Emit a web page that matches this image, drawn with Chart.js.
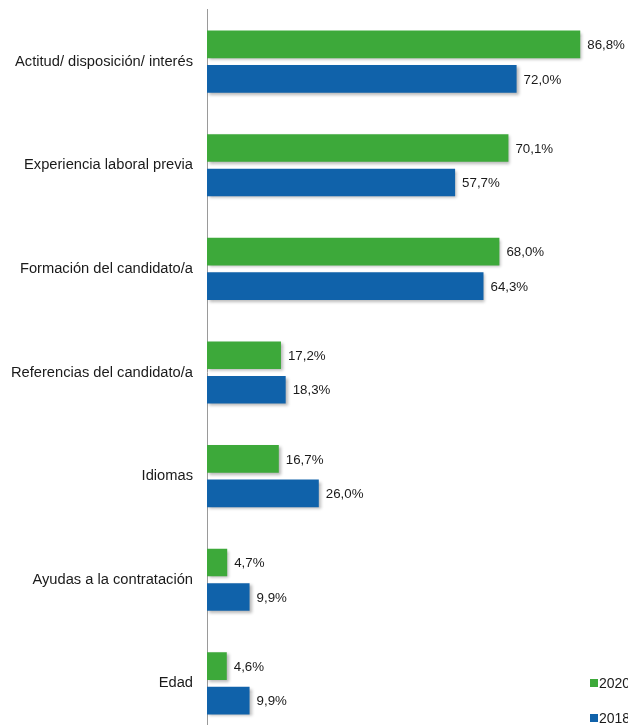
<!DOCTYPE html>
<html lang="es">
<head>
<meta charset="utf-8">
<title>Factores de contratación 2020 / 2018</title>
<script src="https://cdn.jsdelivr.net/npm/chart.js@4/dist/chart.umd.min.js"></script>
<style>
  html, body { margin: 0; padding: 0; background: #fff; overflow: hidden; }
  #wrap { position: relative; width: 640px; height: 771px; margin-top: -13px; }
</style>
</head>
<body>
<div id="wrap"><canvas id="chart" width="640" height="771"></canvas></div>
<script>
// ---- Daten -----------------------------------------------------------------
const categories = [
  'Actitud/ disposición/ interés',
  'Experiencia laboral previa',
  'Formación del candidato/a',
  'Referencias del candidato/a',
  'Idiomas',
  'Ayudas a la contratación',
  'Edad',
];
const seriesNames = ['2020', '2018'];
const values2020 = [86.8, 70.1, 68.0, 17.2, 16.7, 4.7, 4.6];
const values2018 = [72.0, 57.7, 64.3, 18.3, 26.0, 9.9, 9.9];
const seriesColors = ['#3DA93A', '#1062AA'];

const FONT = '"Liberation Sans", Arial, sans-serif';
const TEXT = '#1a1a1a';
const SHIFT = 13; // Canvas ist um 13px nach oben versetzt

// Komma als Dezimaltrenner.
const pct = (v) => v.toFixed(1).replace('.', ',') + '%';

// Leichter Schlagschatten unter den Balken.
const barShadow = {
  id: 'barShadow',
  beforeDatasetsDraw(chart) {
    const c = chart.ctx;
    c.save();
    c.shadowColor = 'rgba(0,0,0,0.28)';
    c.shadowBlur = 3;
    c.shadowOffsetX = 2;
    c.shadowOffsetY = 2;
  },
  afterDatasetsDraw(chart) { chart.ctx.restore(); },
};

// Wertebeschriftung rechts neben jedem Balken.
const valueLabels = {
  id: 'valueLabels',
  afterDraw(chart) {
    const c = chart.ctx;
    c.save();
    c.font = '13.3px ' + FONT;
    c.fillStyle = TEXT;
    c.textAlign = 'left';
    c.textBaseline = 'middle';
    chart.data.datasets.forEach((ds, i) => {
      chart.getDatasetMeta(i).data.forEach((bar, j) => {
        c.fillText(pct(ds.data[j]), bar.x + 7, bar.y + 1);
      });
    });
    c.restore();
  },
};

// Legende unten rechts (wie im Original am Rand abgeschnitten).
const cornerLegend = {
  id: 'cornerLegend',
  afterDraw(chart) {
    const c = chart.ctx;
    c.save();
    c.font = '14px ' + FONT;
    c.textBaseline = 'middle';
    const rows = [683 + SHIFT, 718 + SHIFT];
    seriesNames.forEach((name, i) => {
      c.fillStyle = seriesColors[i];
      c.fillRect(590, rows[i] - 4, 8, 8);
      c.fillStyle = TEXT;
      c.fillText(name, 599, rows[i] + 1);
    });
    c.restore();
  },
};

new Chart(document.getElementById('chart').getContext('2d'), {
  type: 'bar',
  data: {
    labels: categories,
    datasets: [
      { label: seriesNames[0], data: values2020, backgroundColor: seriesColors[0] },
      { label: seriesNames[1], data: values2018, backgroundColor: seriesColors[1] },
    ],
  },
  options: {
    indexAxis: 'y',
    responsive: false,
    animation: false,
    devicePixelRatio: 1,
    categoryPercentage: 0.667,
    barPercentage: 0.8,
    layout: { padding: { top: 0, right: 3, bottom: 0, left: 0 } },
    plugins: { legend: { display: false }, tooltip: { enabled: false } },
    scales: {
      x: { display: false, min: 0, max: 100 },
      y: {
        afterFit(scale) { scale.width = 207; },
        grid: { display: false, drawTicks: false },
        border: { display: true, color: '#9a9a9a', width: 1 },
        ticks: { color: TEXT, font: { family: FONT, size: 14.7 }, padding: 14 },
      },
    },
  },
  plugins: [barShadow, valueLabels, cornerLegend],
});
</script>
</body>
</html>
